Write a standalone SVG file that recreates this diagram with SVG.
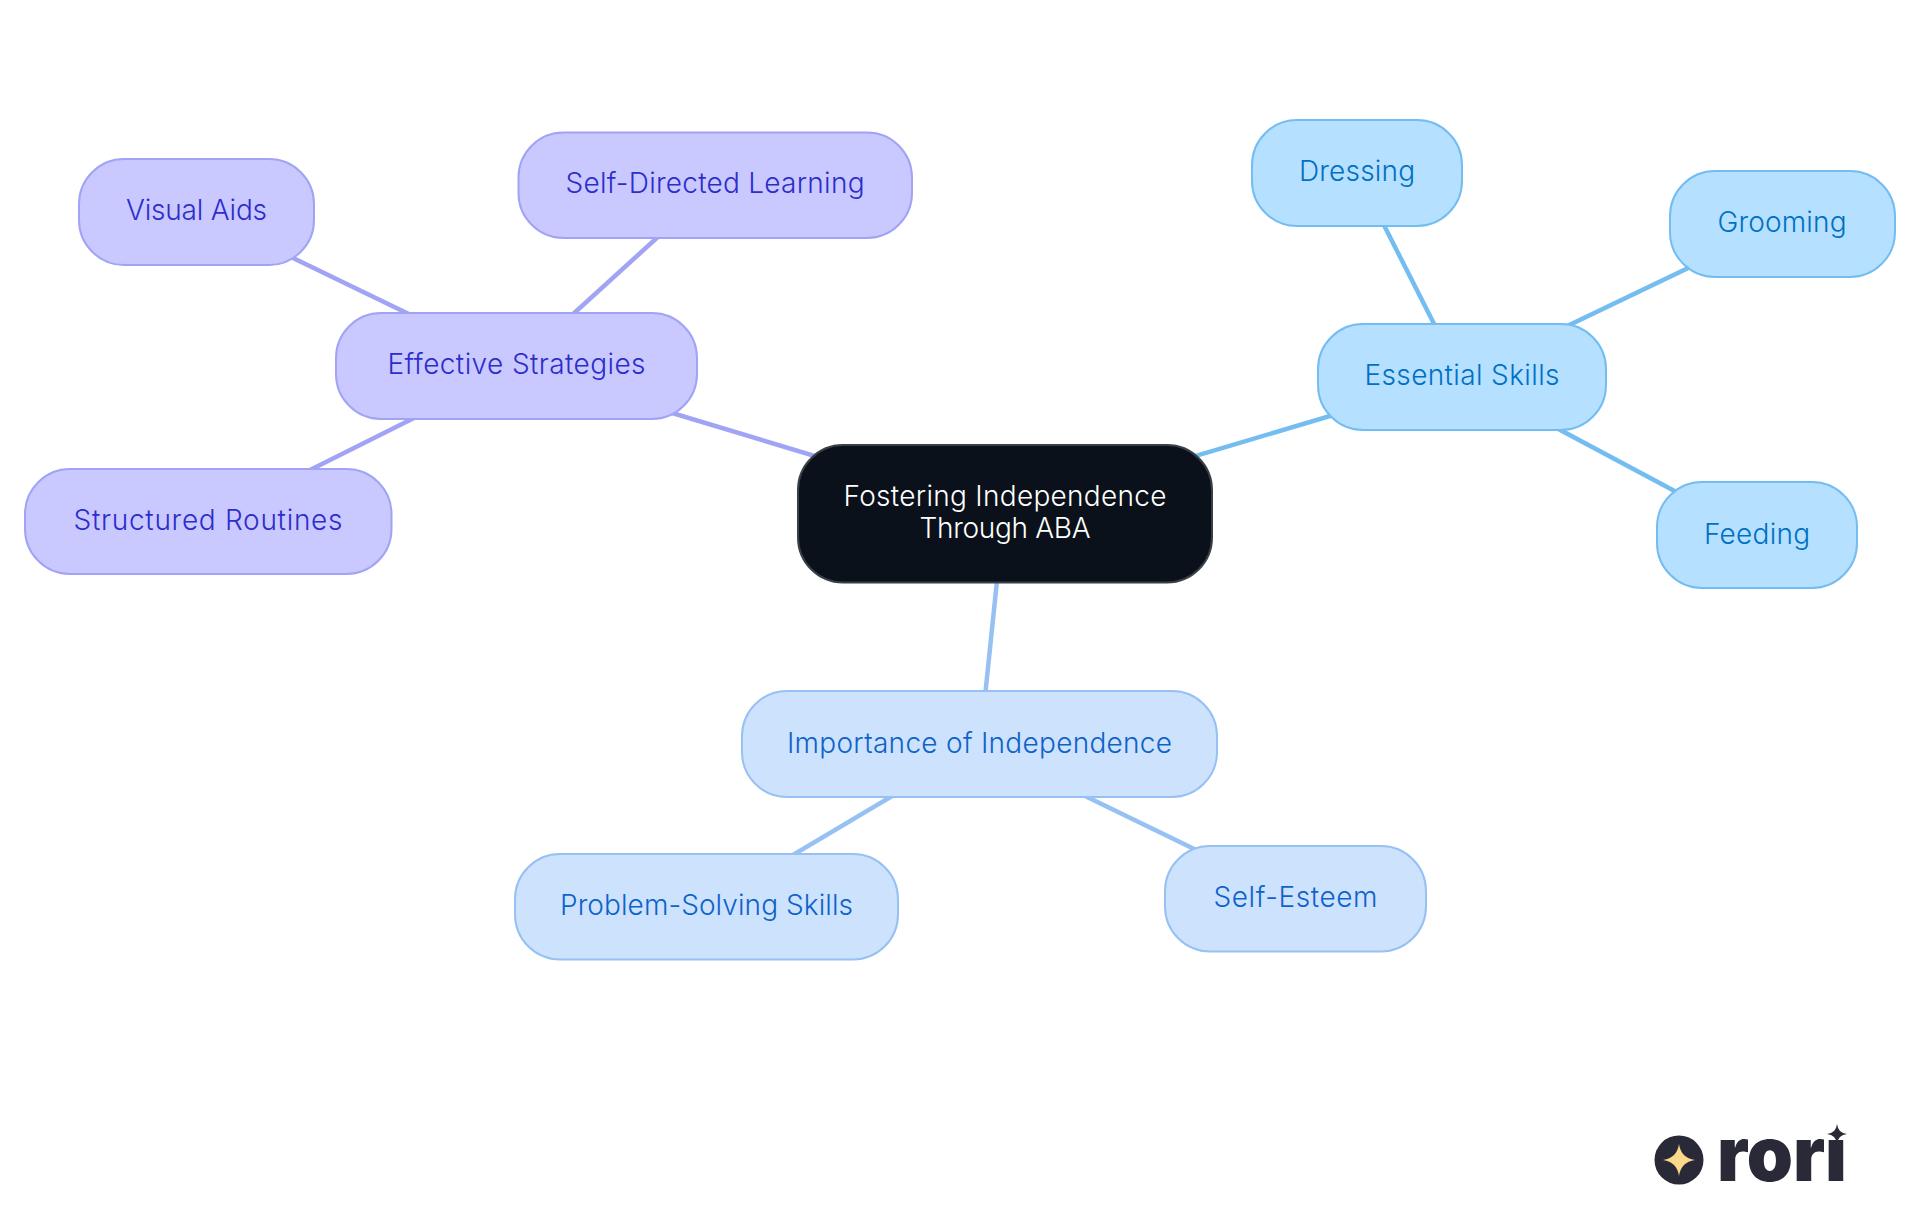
<svg xmlns="http://www.w3.org/2000/svg" width="1920" height="1215" viewBox="0 0 1920 1215">
<style>
text{font-family:"Inter","Noto Sans","Liberation Sans",sans-serif;font-size:28px;font-weight:350;text-anchor:middle}
rect{stroke-width:2}
#connectors line{stroke-width:4.500;fill:none}
.p rect{fill:#c9c9ff;stroke:#a1a4f4}.p text{fill:#2d2dcc}
.s rect{fill:#b5e0ff;stroke:#74bdf0}.s text{fill:#0070c4}
.b rect{fill:#cde3fd;stroke:#97c1f2}.b text{fill:#0f62ca}
.lp{stroke:#a1a4f4}.ls{stroke:#74bdf0}.lb{stroke:#97c1f2}
</style>
<rect width="1920" height="1215" fill="#fff" style="stroke:none"/>
<g id="connectors">
<line class="lp" x1="1004" y1="513" x2="516" y2="366"/>
<line class="lp" x1="516" y1="366" x2="196" y2="211"/>
<line class="lp" x1="516" y1="366" x2="715" y2="185"/>
<line class="lp" x1="518" y1="366" x2="208" y2="521"/>
<line class="ls" x1="1004" y1="513" x2="1461" y2="377"/>
<line class="ls" x1="1461" y1="377" x2="1357" y2="172"/>
<line class="ls" x1="1461" y1="377" x2="1782" y2="223"/>
<line class="ls" x1="1461" y1="377" x2="1757" y2="535"/>
<line class="lb" x1="1004" y1="513" x2="980" y2="745"/>
<line class="lb" x1="978" y1="745" x2="707" y2="906"/>
<line class="lb" x1="980" y1="745" x2="1295" y2="898"/>
</g>
<g id="root"><rect x="798" y="445" width="414" height="137.500" rx="45" fill="#0a111a" stroke="#3a4047"/>
<text x="1005" y="506" fill="#fff" textLength="323">Fostering Independence</text>
<text x="1005" y="538" fill="#fff" textLength="171">Through ABA</text></g>
<g id="effective" class="p"><rect x="336" y="313" width="361" height="106" rx="45"/><text x="516.500" y="374" textLength="258">Effective Strategies</text></g>
<g id="selfdirected" class="p"><rect x="518.500" y="132.500" width="393.500" height="105.500" rx="45"/><text x="715" y="193" textLength="299">Self-Directed Learning</text></g>
<g id="visual" class="p"><rect x="79" y="159" width="235" height="106" rx="45"/><text x="196.500" y="220" textLength="141">Visual Aids</text></g>
<g id="structured" class="p"><rect x="25" y="469" width="366.500" height="105" rx="45"/><text x="208" y="530" textLength="269">Structured Routines</text></g>
<g id="essential" class="s"><rect x="1318" y="324" width="288" height="106" rx="45"/><text x="1462" y="385" textLength="195">Essential Skills</text></g>
<g id="dressing" class="s"><rect x="1252" y="120" width="210" height="106" rx="45"/><text x="1357" y="181" textLength="116">Dressing</text></g>
<g id="grooming" class="s"><rect x="1670" y="171" width="225" height="106" rx="45"/><text x="1782" y="232" textLength="129">Grooming</text></g>
<g id="feeding" class="s"><rect x="1657" y="482" width="200" height="106" rx="45"/><text x="1757" y="544" textLength="106">Feeding</text></g>
<g id="importance" class="b"><rect x="742" y="691" width="475" height="106" rx="45"/><text x="979.500" y="753" textLength="385">Importance of Independence</text></g>
<g id="problem" class="b"><rect x="515" y="854" width="383" height="105.500" rx="45"/><text x="706.500" y="915" textLength="293">Problem-Solving Skills</text></g>
<g id="esteem" class="b"><rect x="1165" y="846" width="261" height="105.500" rx="45"/><text x="1295.500" y="907" textLength="164">Self-Esteem</text></g>
<g id="logo">
<circle cx="1679" cy="1160" r="24.500" fill="#2a2937"/>
<path d="M1679 1144Q1681 1158 1695 1160Q1681 1162 1679 1176Q1677 1162 1663 1160Q1677 1158 1679 1144Z" fill="#fcd98a"/>
<text x="1782" y="1181" textLength="130" lengthAdjust="spacingAndGlyphs" style="font-size:76px;font-weight:900;fill:#2a2937">rori</text>
<rect x="1822" y="1105" width="32" height="34" fill="#fff" style="stroke:none"/>
<path d="M1837 1124Q1838 1133 1847 1134Q1838 1135 1837 1144Q1836 1135 1827 1134Q1836 1133 1837 1124Z" fill="#2a2937"/>
</g>
</svg>
